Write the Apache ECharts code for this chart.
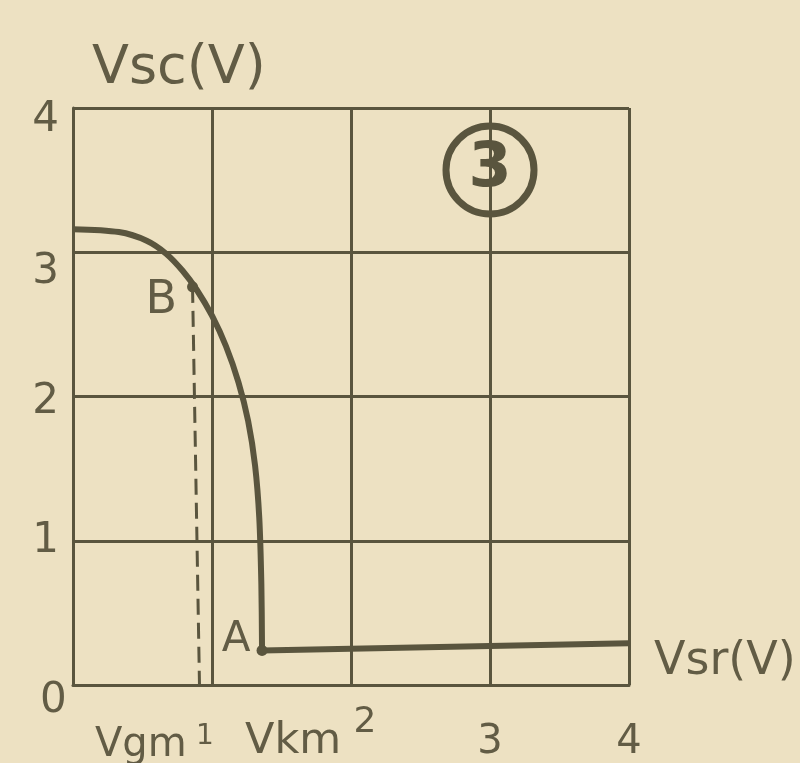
<!DOCTYPE html>
<html>
<head>
<meta charset="utf-8">
<style>
  html, body { margin: 0; padding: 0; background: #ede1c2; }
  #chart { width: 800px; height: 763px; }
</style>
<script src="https://cdn.jsdelivr.net/npm/echarts@6/dist/echarts.min.js"></script>
</head>
<body>
<div id="chart"></div>
<script>
// Vsc versus Vsr characteristic: knee from B down to A, then a flat tail
const kneeX = [0.00, 0.33, 0.53, 0.67, 0.79, 0.89, 1.00, 1.10, 1.19, 1.26, 1.31, 1.34, 1.355, 1.36];
const kneeY = [3.16, 3.14, 3.08, 2.99, 2.87, 2.74, 2.56, 2.35, 2.10, 1.83, 1.52, 1.16, 0.70, 0.24];
const tailX = [1.36, 4.00];
const tailY = [0.24, 0.29];
const pointA = [1.36, 0.24];
const pointB = [0.86, 2.76];
const dashX = [0.86, 0.91];
const dashY = [2.76, 0.00];
const circledNo = [3.00, 3.57];
const axisTicks = [0, 1, 2, 3, 4];

const ink = '#5a553e';
const textInk = '#625c45';
const font = '"DejaVu Sans", sans-serif';

const xTickText = {
  1: '{g1|}\n{s|1}',
  2: '{m|2}',
  3: '{g3|}\n{l|3}',
  4: '{g3|}\n{l|4}'
};
const yTickText = {
  1: '{n|1}',
  2: '{y2|2}',
  3: '{y3|3}',
  4: '{y4|4}'
};

const chart = echarts.init(document.getElementById('chart'));

chart.setOption({
  backgroundColor: '#ede1c2',
  animation: false,
  grid: { left: 73, right: 171, top: 108, bottom: 73 },
  xAxis: {
    type: 'value', min: axisTicks[0], max: axisTicks[axisTicks.length - 1], interval: 1,
    name: 'Vsr(V)', nameLocation: 'end', nameGap: 25,
    nameTextStyle: { color: textInk, fontSize: 46, fontFamily: font, verticalAlign: 'bottom', lineHeight: 46 },
    axisLine: { show: true, lineStyle: { color: ink, width: 3 } },
    axisTick: { show: false },
    splitLine: { show: true, lineStyle: { color: ink, width: 3 } },
    axisLabel: {
      color: textInk, fontFamily: font, margin: 20,
      formatter: v => xTickText[v] || '',
      rich: {
        g1: { height: 18, lineHeight: 18 },
        g3: { height: 18, lineHeight: 18 },
        s: { fontSize: 28, lineHeight: 28, color: textInk, fontFamily: font, padding: [0, 14, 0, 0] },
        m: { fontSize: 36, lineHeight: 36, color: textInk, fontFamily: font, padding: [0, 0, 0, 28] },
        l: { fontSize: 40, lineHeight: 40, color: textInk, fontFamily: font }
      }
    }
  },
  yAxis: {
    type: 'value', min: axisTicks[0], max: axisTicks[axisTicks.length - 1], interval: 1,
    name: 'Vsc(V)', nameLocation: 'end', nameGap: 12,
    nameTextStyle: { color: textInk, fontSize: 54, fontFamily: font, align: 'left', padding: [0, 0, 0, 19] },
    axisLine: { show: true, lineStyle: { color: ink, width: 3 } },
    axisTick: { show: false },
    splitLine: { show: true, lineStyle: { color: ink, width: 3 } },
    axisLabel: {
      color: textInk, fontFamily: font, margin: 14,
      formatter: v => yTickText[v] || '',
      rich: {
        n: { fontSize: 42, color: textInk, fontFamily: font },
        y2: { fontSize: 42, color: textInk, fontFamily: font, padding: [12, 0, 0, 0] },
        y3: { fontSize: 42, color: textInk, fontFamily: font, padding: [40, 0, 0, 0] },
        y4: { fontSize: 42, color: textInk, fontFamily: font, padding: [24, 0, 0, 0] }
      }
    }
  },
  graphic: [
    { type: 'text', left: 40, top: 680, style: { text: '0', fontSize: 42, fill: textInk, fontFamily: font } },
    { type: 'text', left: 95, top: 726, style: { text: 'Vgm', fontSize: 40, fill: textInk, fontFamily: font } },
    { type: 'text', left: 245, top: 720, style: { text: 'Vkm', fontSize: 43, fill: textInk, fontFamily: font } }
  ],
  series: [
    {
      type: 'line', data: kneeX.map((x, i) => [x, kneeY[i]]),
      smooth: 0.3, symbol: 'none',
      lineStyle: { color: ink, width: 6 }, z: 5
    },
    {
      type: 'line', data: tailX.map((x, i) => [x, tailY[i]]),
      symbol: 'none',
      lineStyle: { color: ink, width: 6 }, z: 5
    },
    {
      type: 'line', data: dashX.map((x, i) => [x, dashY[i]]),
      symbol: 'none',
      lineStyle: { color: ink, width: 3, type: [16, 8] }, z: 4
    },
    {
      type: 'scatter', symbolSize: 11,
      itemStyle: { color: ink, opacity: 1 },
      data: [
        { value: pointB, label: { show: true, formatter: 'B', position: 'left', distance: 10, offset: [0, 14], fontSize: 46, color: textInk, fontFamily: font } },
        { value: pointA, label: { show: true, formatter: 'A', position: 'left', distance: 6, offset: [0, -10], fontSize: 42, color: textInk, fontFamily: font } }
      ], z: 6
    },
    {
      type: 'scatter', symbol: 'circle', symbolSize: 88,
      itemStyle: { color: 'rgba(0,0,0,0)', borderColor: ink, borderWidth: 7, opacity: 1 },
      label: { show: true, position: 'inside', formatter: '3', fontSize: 62, fontWeight: 'bold', color: ink, fontFamily: font },
      data: [circledNo], z: 6
    }
  ]
});
</script>
</body>
</html>
